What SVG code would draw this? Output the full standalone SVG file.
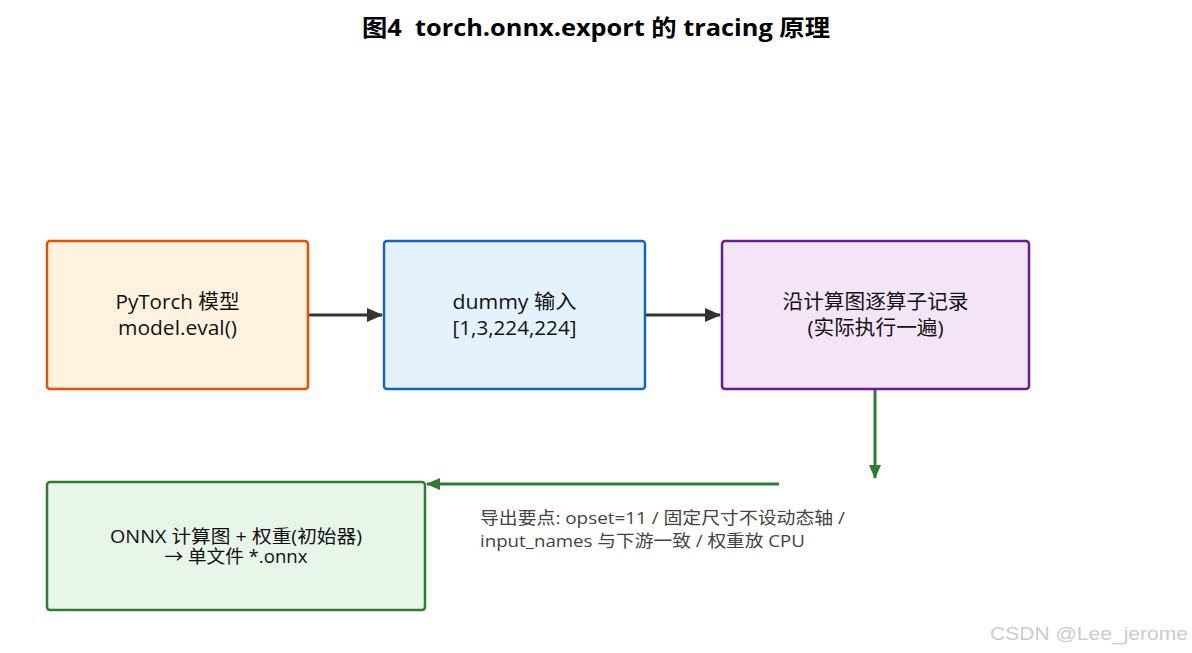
<svg xmlns="http://www.w3.org/2000/svg" width="1192" height="653" viewBox="0 0 1192 653">
<defs>
<style>
.t{font-family:"Open Sans","Noto Sans CJK SC",sans-serif;font-size:20px;fill:#111;text-anchor:middle}
.note{font-family:"Open Sans","Noto Sans CJK SC",sans-serif;font-size:17px;fill:#444}
.box{stroke-width:2.5}
</style>
<marker id="ag" markerWidth="14" markerHeight="12" refX="13" refY="6" orient="auto" markerUnits="userSpaceOnUse" viewBox="0 0 14 12"><path d="M0,0 L14,6 L0,12 z" fill="#2E7D32"/></marker>
<marker id="ad2" markerWidth="16" markerHeight="14" refX="15" refY="7" orient="auto" markerUnits="userSpaceOnUse" viewBox="0 0 16 14"><path d="M0,0 L16,7 L0,14 z" fill="#333"/></marker>
</defs>
<rect width="1192" height="653" fill="#fff"/>
<text x="596" y="36" text-anchor="middle" xml:space="preserve" textLength="468" lengthAdjust="spacingAndGlyphs" style="font-family:'Open Sans','Noto Sans CJK SC',sans-serif;font-size:23px;font-weight:bold;fill:#000;white-space:pre">图4  torch.onnx.export 的 tracing 原理</text>
<g id="connectors">
<line x1="309" y1="315" x2="382" y2="315" stroke="#333" stroke-width="3" marker-end="url(#ad2)"/>
<line x1="646" y1="315" x2="720" y2="315" stroke="#333" stroke-width="3" marker-end="url(#ad2)"/>
<line x1="875" y1="390" x2="875" y2="478" stroke="#2E7D32" stroke-width="3" marker-end="url(#ag)"/>
<line x1="779" y1="484" x2="427" y2="484" stroke="#2E7D32" stroke-width="3" marker-end="url(#ag)"/>
</g>
<g id="n1">
<rect class="box" x="47" y="241" width="261" height="148" rx="3" fill="#FFF3E0" stroke="#E65100"/>
<text class="t" x="177.5" y="309" textLength="124" lengthAdjust="spacingAndGlyphs">PyTorch 模型</text>
<text class="t" x="177.5" y="335" textLength="119" lengthAdjust="spacingAndGlyphs">model.eval()</text>
</g>
<g id="n2">
<rect class="box" x="384" y="241" width="261" height="148" rx="3" fill="#E3F2FD" stroke="#1565C0"/>
<text class="t" x="514.5" y="309" textLength="124" lengthAdjust="spacingAndGlyphs">dummy 输入</text>
<text class="t" x="514.5" y="335" textLength="124" lengthAdjust="spacingAndGlyphs">[1,3,224,224]</text>
</g>
<g id="n3">
<rect class="box" x="722" y="241" width="307" height="148" rx="3" fill="#F3E5F5" stroke="#6A1B9A"/>
<text class="t" x="875.5" y="309" textLength="186" lengthAdjust="spacingAndGlyphs">沿计算图逐算子记录</text>
<text class="t" x="875.5" y="335" textLength="136" lengthAdjust="spacingAndGlyphs">(实际执行一遍)</text>
</g>
<g id="n4">
<rect class="box" x="47" y="482" width="378" height="128" rx="3" fill="#E8F5E9" stroke="#2E7D32"/>
<text class="t" x="236" y="543" textLength="252" lengthAdjust="spacingAndGlyphs" style="font-size:18px">ONNX 计算图 + 权重(初始器)</text>
<text class="t" x="236" y="563" textLength="143" lengthAdjust="spacingAndGlyphs" style="font-size:18px">→ 单文件 *.onnx</text>
</g>
<g id="note">
<text class="note" x="480" y="524" textLength="365" lengthAdjust="spacingAndGlyphs">导出要点: opset=11 / 固定尺寸不设动态轴 /</text>
<text class="note" x="480" y="547" textLength="325" lengthAdjust="spacingAndGlyphs">input_names 与下游一致 / 权重放 CPU</text>
</g>
<text x="1188" y="640" text-anchor="end" textLength="198" lengthAdjust="spacingAndGlyphs" style="font-family:'Liberation Sans',sans-serif;font-size:19px;fill:#ccc">CSDN @Lee_jerome</text>
</svg>
